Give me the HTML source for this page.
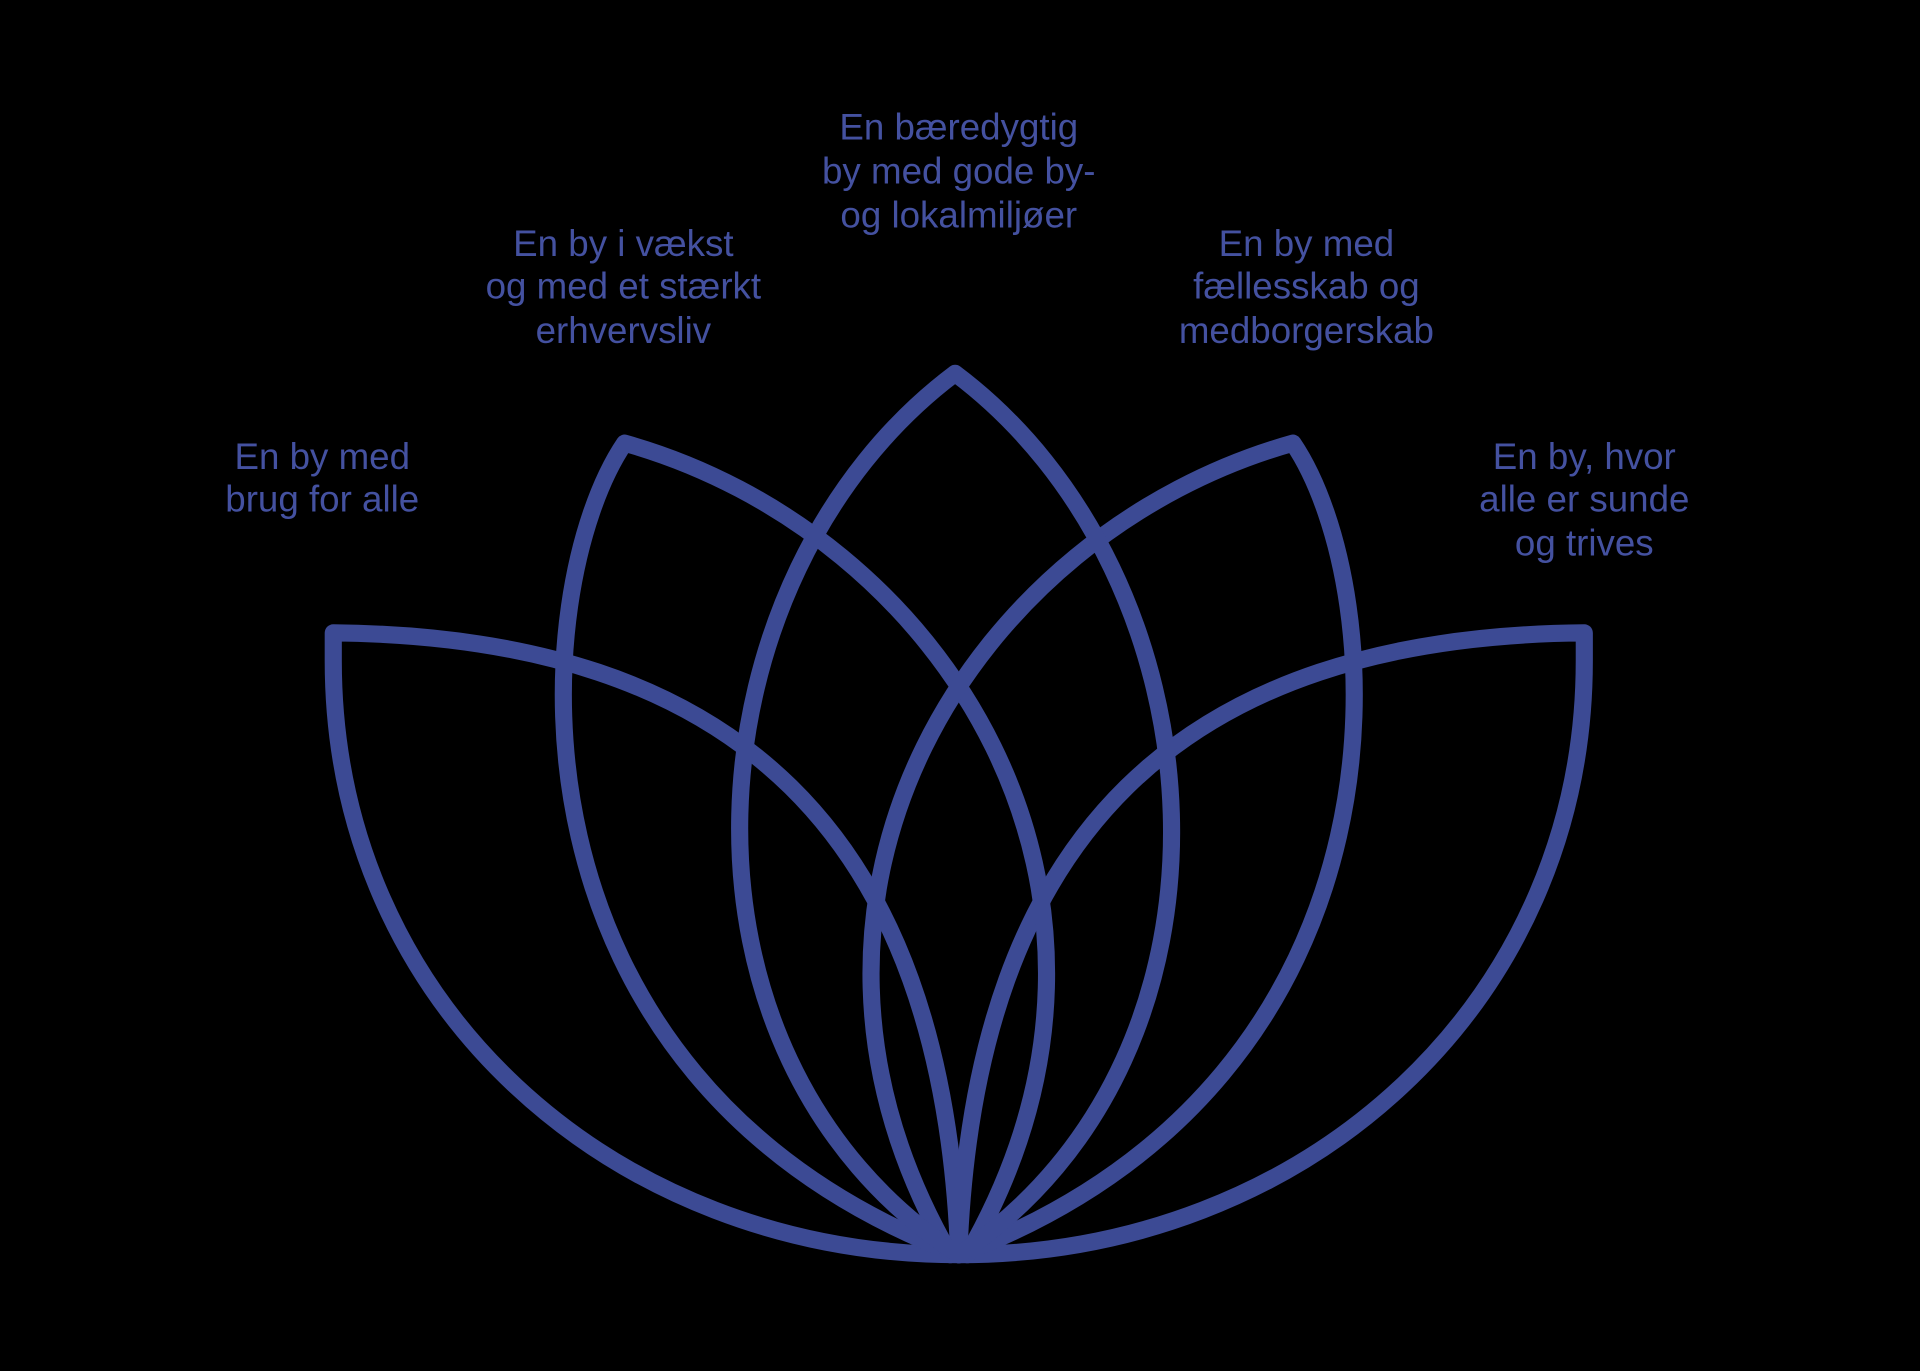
<!DOCTYPE html>
<html><head><meta charset="utf-8"><style>
html,body{margin:0;padding:0;background:#000;}
svg{display:block;}
text{font-family:"Liberation Sans",sans-serif;font-size:30px;fill:#4451a0;text-anchor:middle;}
</style></head><body>
<svg width="1920" height="1371" viewBox="0 0 1568 1120" xmlns="http://www.w3.org/2000/svg">
<rect width="1568" height="1120" fill="#000"/>
<g fill="none" stroke="#3c4a94" stroke-width="14" stroke-linejoin="round" stroke-linecap="round">
<path d="M783,1025 C500,1025 272,820 272,540 L272,517 C600,520 770,680 783,1025"/>
<path d="M783,1025 C1066,1025 1294,820 1294,540 L1294,517 C966,520 796,680 783,1025"/>
<path d="M783,1025 C400,880 430,480 510,362 C770,435 960,730 790,1025"/>
<path d="M783,1025 C1166,880 1136,480 1056,362 C796,435 606,730 776,1025"/>
<path d="M783,1025 C530,860 560,470 780,305 C1000,470 1030,860 783,1025"/>
</g>
<text x="263" y="383">En by med</text>
<text x="263" y="418">brug for alle</text>
<text x="509" y="209">En by i vækst</text>
<text x="509" y="244">og med et stærkt</text>
<text x="509" y="280">erhvervsliv</text>
<text x="783" y="114">En bæredygtig</text>
<text x="783" y="150">by med gode by-</text>
<text x="783" y="186">og lokalmiljøer</text>
<text x="1067" y="209">En by med</text>
<text x="1067" y="244">fællesskab og</text>
<text x="1067" y="280">medborgerskab</text>
<text x="1294" y="383">En by, hvor</text>
<text x="1294" y="418">alle er sunde</text>
<text x="1294" y="454">og trives</text>
</svg>
</body></html>
